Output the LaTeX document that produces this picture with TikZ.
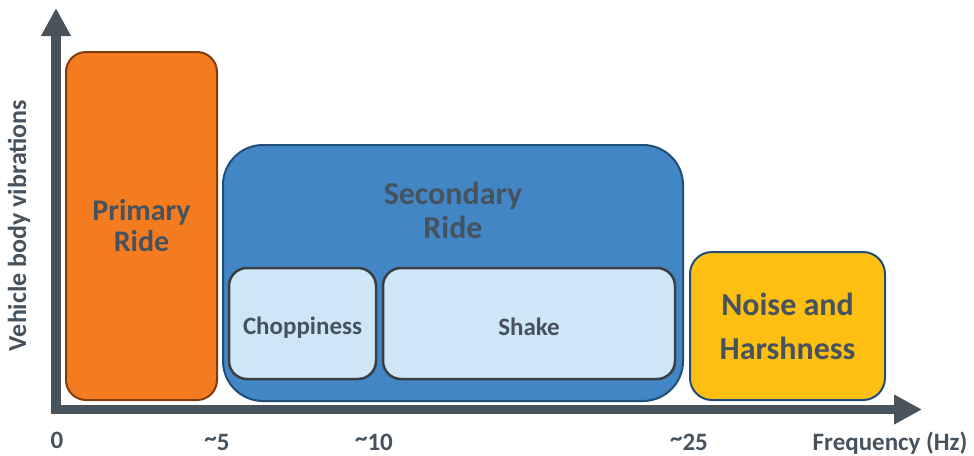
\documentclass[tikz,border=0pt]{standalone}
\usepackage{fontspec}
\setmainfont{Carlito}
\usetikzlibrary{arrows.meta}

\definecolor{axisgray}{HTML}{48535C}
\definecolor{textgray}{HTML}{46535E}
\definecolor{primaryfill}{HTML}{F47B20}
\definecolor{primaryline}{HTML}{843C0C}
\definecolor{secondaryfill}{HTML}{4386C6}
\definecolor{secondaryline}{HTML}{1F4E79}
\definecolor{subfill}{HTML}{CDE6F8}
\definecolor{subline}{HTML}{3C3F42}
\definecolor{noisefill}{HTML}{FCBF12}

\newcommand{\approxsign}{\raisebox{4pt}{\textasciitilde}}

\tikzset{
    axis/.style = {
        line width=9.5pt,
        axisgray,
        line join=miter,
        {Triangle[length=28pt,width=28pt]}-{Triangle[length=28pt,width=28pt]}
    },
    band/.style = {
        draw,
        rectangle,
        line width=2pt,
        rounded corners=#1,
        inner sep=0pt,
        align=center,
        text=textgray
    },
    subband/.style = {
        band=18pt,
        fill=subfill,
        draw=subline,
        line width=2.5pt,
        minimum height=111pt,
        text height=25pt,
        font=\bfseries\fontsize{25}{30}\selectfont
    },
    tick/.style = {
        anchor=base,
        inner sep=0pt,
        text=textgray,
        font=\bfseries\fontsize{25}{30}\selectfont
    }
}

\begin{document}
\begin{tikzpicture}[x=1pt, y=-1pt]
    \useasboundingbox (0,0) rectangle (974,455);

    % Draw the axes
    \coordinate (origin) at (56,409.5);
    \coordinate (xend) at (922,409.5);
    \coordinate (yend) at (56,8);
    \draw[axis] (yend) -- (origin) -- (xend);

    % Draw the bands
    \node[band=20pt, fill=primaryfill, draw=primaryline, minimum width=151pt, minimum height=348pt,
          font=\bfseries\fontsize{30}{31}\selectfont] (primary) at (141.5,226) {Primary\\Ride};
    \node[band=40pt, fill=secondaryfill, draw=secondaryline, minimum width=460pt, minimum height=256pt] (secondary) at (453,273) {};
    \node[align=center, inner sep=0pt, text=textgray, font=\bfseries\fontsize{32}{34}\selectfont] (secondarytitle) at (453,210) {Secondary\\Ride};
    \node[subband, minimum width=147pt] (choppiness) at (302.5,323.5) {Choppiness};
    \node[subband, minimum width=292pt] (shake) at (529,323.5) {Shake};
    \node[band=22pt, fill=noisefill, draw=secondaryline, minimum width=195pt, minimum height=148pt,
          font=\bfseries\fontsize{32}{44}\selectfont] (noise) at (787.5,326) {Noise and\\Harshness};

    % Draw labels
    \node[tick] (tick0) at (57,448) {0};
    \node[tick] (tick5) at (217,450) {\approxsign5};
    \node[tick] (tick10) at (374,450) {\approxsign10};
    \node[tick] (tick25) at (689,450) {\approxsign25};
    \node[tick, anchor=base west] (freq) at (812.5,450) {Frequency (Hz)};
    \node[tick, anchor=center, rotate=90, font=\bfseries\fontsize{26}{30}\selectfont] (vib) at (19,225.5) {Vehicle body vibrations};
\end{tikzpicture}
\end{document}
